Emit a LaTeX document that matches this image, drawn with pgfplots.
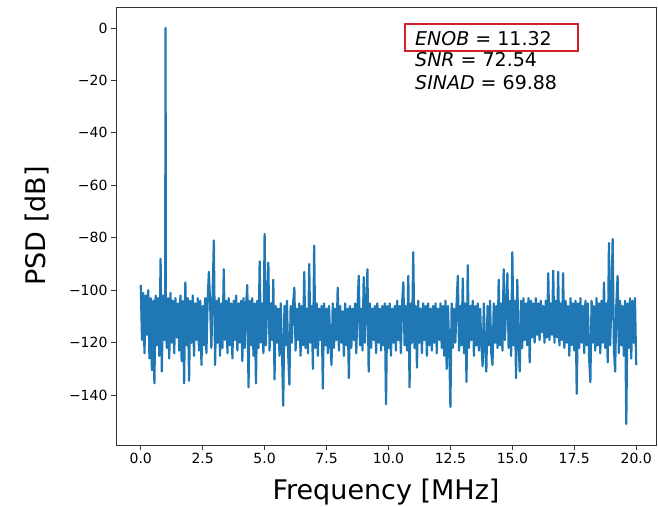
\documentclass[border=0pt]{standalone}
\usepackage{fontspec}
\setmainfont{DejaVu Sans}
\usepackage{pgfplots}
\pgfplotsset{compat=1.18}
\definecolor{mplblue}{HTML}{1F77B4}
\definecolor{boxred}{HTML}{D0202A}

\begin{document}
\begin{tikzpicture}[x=1pt,y=1pt]
\begin{axis}[
    at={(116pt,61pt)}, anchor=south west,
    scale only axis, width=540pt, height=438pt,
    xmin=-1, xmax=20.8, ymin=-159, ymax=8,
    axis line style={black!80, line width=0.9pt},
    tick align=outside, major tick length=5pt,
    tick style={black!80, line width=0.9pt},
    tick pos=left,
    xtick={0,2.5,5,7.5,10,12.5,15,17.5,20},
    xticklabels={0.0,2.5,5.0,7.5,10.0,12.5,15.0,17.5,20.0},
    ytick={-140,-120,-100,-80,-60,-40,-20,0},
    yticklabels={−140,−120,−100,−80,−60,−40,−20,0},
    tick label style={font=\fontsize{14}{16}\selectfont},
    xlabel={Frequency [MHz]},
    ylabel={PSD [dB]},
    label style={font=\fontsize{27}{30}\selectfont},
    xlabel style={at={(axis description cs:0.5,-0.107)}, anchor=center},
    ylabel style={at={(axis description cs:-0.146,0.5)}, anchor=center},
]
\addplot[mplblue, line width=2.2pt, line join=round] coordinates {
(0.00,-98)(0.05,-119)(0.10,-101)(0.15,-124)(0.20,-102)(0.25,-117)(0.30,-100)(0.35,-126)(0.40,-103)(0.45,-130.5)
(0.50,-104)(0.55,-135.5)(0.60,-102)(0.65,-121)(0.70,-103)(0.75,-125)(0.80,-88)(0.85,-131)(0.90,-102)(0.95,-119)
(0.985,-108)(1.00,0)(1.015,-112)(1.05,-122)(1.10,-103)(1.15,-126)(1.20,-101)(1.25,-120)(1.30,-104)(1.35,-124)(1.40,-103)(1.45,-118)
(1.50,-105)(1.55,-123)(1.60,-102)(1.65,-127)(1.70,-104)(1.75,-135.5)(1.80,-97)(1.85,-121)(1.90,-103)(1.95,-134.5)
(2.00,-104)(2.05,-120)(2.10,-102)(2.15,-125)(2.20,-105)(2.25,-119)(2.30,-103)(2.35,-123)(2.40,-104)(2.45,-128.5)
(2.50,-106)(2.55,-121)(2.60,-103)(2.65,-124)(2.70,-104)(2.75,-93)(2.80,-105)(2.85,-122)(2.90,-102)(2.95,-81)
(3.00,-128.5)(3.05,-104)(3.10,-120)(3.15,-103)(3.20,-125)(3.25,-105)(3.30,-122)(3.35,-92)(3.40,-119)(3.45,-104)
(3.50,-124)(3.55,-103)(3.60,-121)(3.65,-105)(3.70,-126)(3.75,-104)(3.80,-119)(3.85,-102)(3.90,-123)(3.95,-105)
(4.00,-120)(4.05,-104)(4.10,-127)(4.15,-103)(4.20,-122)(4.25,-106)(4.30,-98)(4.35,-137)(4.40,-104)(4.45,-121)
(4.50,-103)(4.55,-125)(4.60,-105)(4.65,-135.5)(4.70,-104)(4.75,-122)(4.80,-89)(4.85,-120)(4.90,-105)(4.95,-124)
(5.00,-78.5)(5.05,-121)(5.10,-106)(5.15,-89.5)(5.20,-123)(5.25,-105)(5.30,-119)(5.35,-96)(5.40,-134)(5.45,-106)
(5.50,-120)(5.55,-107)(5.60,-125)(5.65,-105)(5.70,-122)(5.75,-144)(5.80,-106)(5.85,-121)(5.90,-104)(5.95,-124)
(6.00,-136)(6.05,-106)(6.10,-120)(6.15,-105)(6.20,-99)(6.25,-123)(6.30,-107)(6.35,-119)(6.40,-105)(6.45,-125)
(6.50,-106)(6.55,-121)(6.60,-93)(6.65,-122)(6.70,-107)(6.75,-124)(6.80,-90)(6.85,-120)(6.90,-106)(6.95,-130)
(7.00,-83)(7.05,-122)(7.10,-105)(7.15,-125)(7.20,-107)(7.25,-119)(7.30,-106)(7.35,-137.5)(7.40,-105)(7.45,-121)
(7.50,-107)(7.55,-124)(7.60,-106)(7.65,-120)(7.70,-128.5)(7.75,-105)(7.80,-122)(7.85,-107)(7.90,-119)(7.95,-99)
(8.00,-123)(8.05,-106)(8.10,-120)(8.15,-108)(8.20,-125)(8.25,-105)(8.30,-121)(8.35,-107)(8.40,-133.5)(8.45,-106)
(8.50,-122)(8.55,-107)(8.60,-119)(8.65,-105)(8.70,-124)(8.75,-106)(8.80,-94.5)(8.85,-121)(8.90,-107)(8.95,-123)
(9.00,-95)(9.05,-120)(9.10,-106)(9.15,-92)(9.20,-131)(9.25,-105)(9.30,-122)(9.35,-107)(9.40,-119)(9.45,-106)
(9.50,-124)(9.55,-105)(9.60,-120)(9.65,-107)(9.70,-123)(9.75,-106)(9.80,-121)(9.85,-105)(9.90,-143.5)(9.95,-106)
(10.00,-122)(10.05,-105)(10.10,-125)(10.15,-107)(10.20,-120)(10.25,-106)(10.30,-123)(10.35,-104)(10.40,-119)(10.45,-106)
(10.50,-124)(10.55,-105)(10.60,-97)(10.65,-121)(10.70,-106)(10.75,-123)(10.80,-94.5)(10.85,-137)(10.90,-105)(10.95,-120)
(11.00,-85.5)(11.05,-122)(11.10,-106)(11.15,-129.5)(11.20,-104)(11.25,-120)(11.30,-107)(11.35,-124)(11.40,-105)(11.45,-119)
(11.50,-106)(11.55,-125)(11.60,-105)(11.65,-121)(11.70,-107)(11.75,-123)(11.80,-106)(11.85,-120)(11.90,-105)(11.95,-124)
(12.00,-107)(12.05,-119)(12.10,-105)(12.15,-122)(12.20,-106)(12.25,-125)(12.30,-104)(12.35,-130)(12.40,-106)(12.45,-121)
(12.50,-144.5)(12.55,-105)(12.60,-122)(12.65,-107)(12.70,-120)(12.75,-105)(12.80,-94.5)(12.85,-123)(12.90,-106)(12.95,-121)
(13.00,-95.5)(13.05,-124)(13.10,-105)(13.15,-135)(13.20,-90.5)(13.25,-122)(13.30,-106)(13.35,-119)(13.40,-104)(13.45,-125)
(13.50,-106)(13.55,-121)(13.60,-105)(13.65,-123)(13.70,-107)(13.75,-120)(13.80,-129)(13.85,-105)(13.90,-122)(13.95,-131)
(14.00,-106)(14.05,-121)(14.10,-104)(14.15,-124)(14.20,-128.5)(14.25,-105)(14.30,-120)(14.35,-106)(14.40,-122)(14.45,-96)
(14.50,-121)(14.55,-105)(14.60,-123)(14.65,-92)(14.70,-119)(14.75,-106)(14.80,-93.5)(14.85,-122)(14.90,-104)(14.95,-125)
(15.00,-85.5)(15.05,-121)(15.10,-104)(15.15,-133.5)(15.20,-96)(15.25,-120)(15.30,-131)(15.35,-104)(15.40,-122)(15.45,-103)
(15.50,-119)(15.55,-105)(15.60,-121)(15.65,-103)(15.70,-127.5)(15.75,-104)(15.80,-118)(15.85,-105)(15.90,-120)(15.95,-103)
(16.00,-117)(16.05,-105)(16.10,-119)(16.15,-104)(16.20,-116)(16.25,-106)(16.30,-120)(16.35,-104)(16.40,-118)(16.45,-93.5)
(16.50,-119)(16.55,-105)(16.60,-117)(16.65,-92.5)(16.70,-120)(16.75,-104)(16.80,-118)(16.85,-93)(16.90,-121)(16.95,-105)
(17.00,-119)(17.05,-93.5)(17.10,-122)(17.15,-104)(17.20,-120)(17.25,-106)(17.30,-125)(17.35,-103)(17.40,-121)(17.45,-105)
(17.50,-123)(17.55,-104)(17.60,-139.5)(17.65,-105)(17.70,-122)(17.75,-103)(17.80,-120)(17.85,-106)(17.90,-124)(17.95,-104)
(18.00,-121)(18.05,-105)(18.10,-126)(18.15,-135)(18.20,-104)(18.25,-120)(18.30,-106)(18.35,-123)(18.40,-103)(18.45,-121)
(18.50,-105)(18.55,-124)(18.60,-104)(18.65,-120)(18.70,-97)(18.75,-122)(18.80,-105)(18.85,-127.5)(18.90,-82)(18.95,-121)
(19.00,-104)(19.05,-80.5)(19.10,-122)(19.15,-131)(19.20,-105)(19.25,-94.5)(19.30,-124)(19.35,-104)(19.40,-121)(19.45,-106)
(19.50,-125)(19.55,-104)(19.60,-151)(19.65,-105)(19.70,-122)(19.75,-103)(19.80,-126)(19.85,-104)(19.90,-120)(19.95,-103)
(20.00,-128.5)
};
% metrics box and labels
\draw[boxred, line width=1.4pt] (axis cs:10.67,1.52) rectangle (axis cs:17.65,-8.77);
\node[anchor=base west, inner sep=0pt, font=\fontsize{19}{22}\selectfont] at (axis cs:11.07,-6.5) {\itshape ENOB\/\upshape\ = 11.32};
\node[anchor=base west, inner sep=0pt, font=\fontsize{19}{22}\selectfont] at (axis cs:11.07,-14.75) {\itshape SNR\/\upshape\ = 72.54};
\node[anchor=base west, inner sep=0pt, font=\fontsize{19}{22}\selectfont] at (axis cs:11.07,-23.4) {\itshape SINAD\/\upshape\ = 69.88};
\end{axis}
\pgfresetboundingbox
\path[use as bounding box] (0,0) rectangle (658,506);
\end{tikzpicture}
\end{document}
